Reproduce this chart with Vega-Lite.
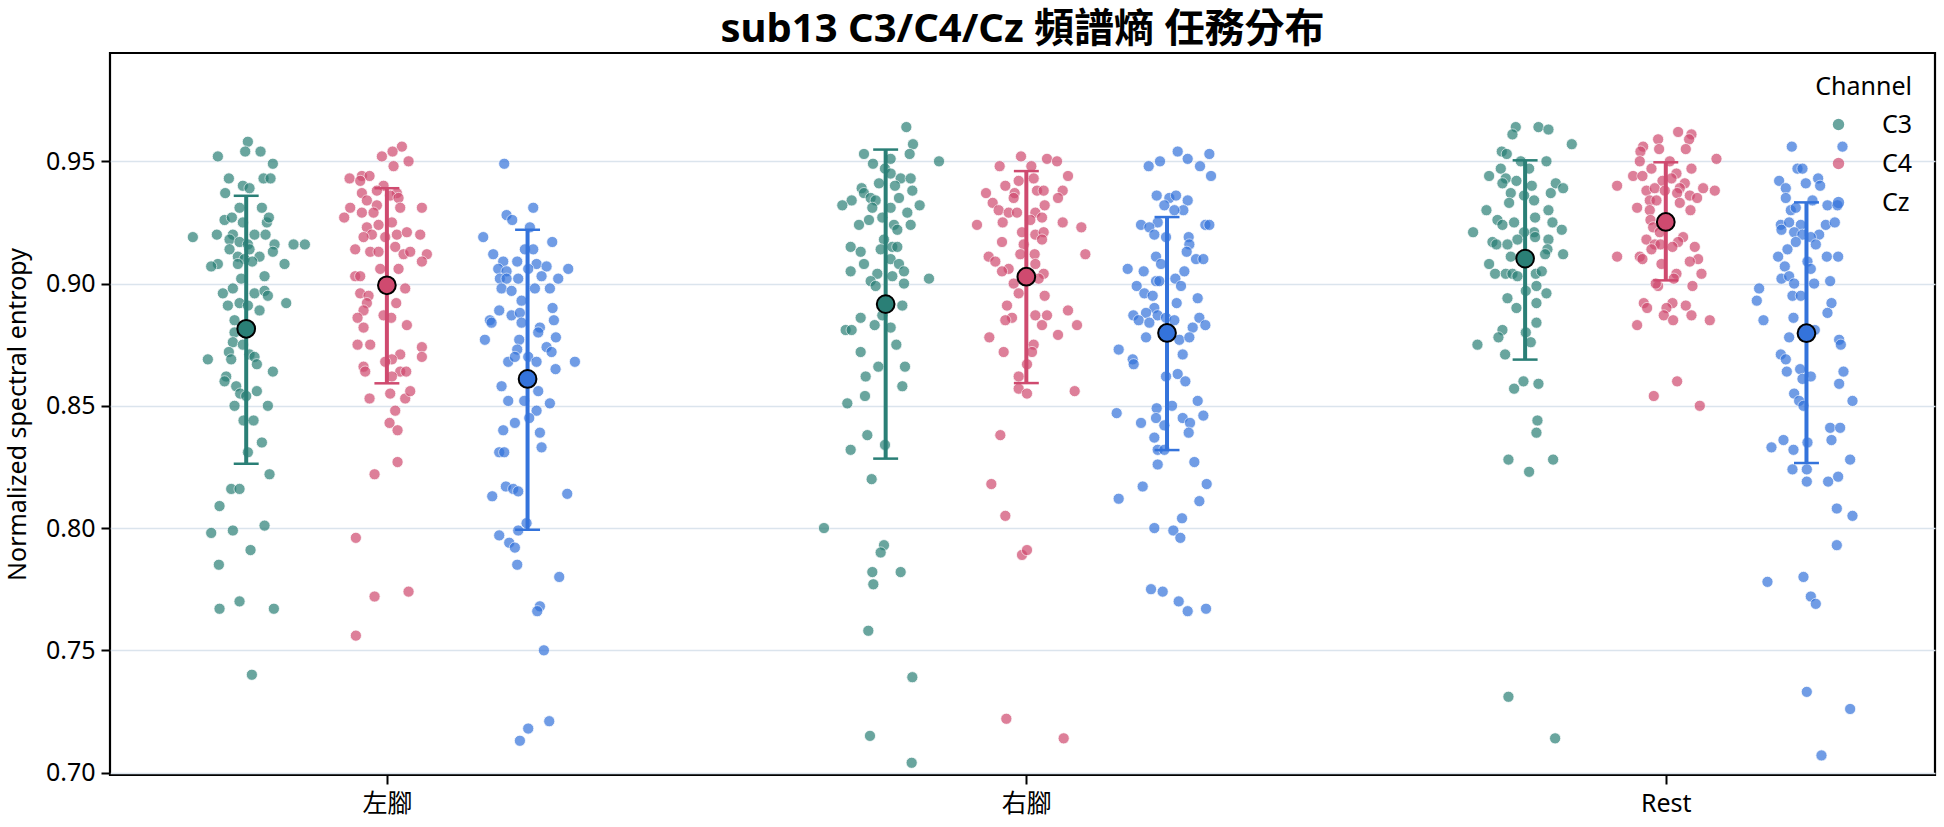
{
"$schema":"https://vega.github.io/schema/vega-lite/v6.json",
"width":1825,"height":722,
"autosize":{"type":"none"},
"padding":{"left":110,"top":53,"right":9,"bottom":52},
"background":"white",
"config":{"font":"'Noto Sans', 'Noto Sans CJK TC'","view":{"stroke":"#000","strokeWidth":2.2}},
"title":{"text":"sub13 C3/C4/Cz 頻譜熵 任務分布","font":"'Noto Sans', 'Noto Sans CJK TC'","fontSize":40,"fontWeight":"bold","color":"#000","offset":3,"frame":"group","anchor":"middle"},
"datasets":{
"summary":[
{"t":"左腳","c":"C3","m":0.8815,"lo":0.8263,"hi":0.9359},
{"t":"左腳","c":"C4","m":0.8993,"lo":0.8592,"hi":0.9390},
{"t":"左腳","c":"Cz","m":0.8610,"lo":0.7993,"hi":0.9220},
{"t":"右腳","c":"C3","m":0.8916,"lo":0.8284,"hi":0.9548},
{"t":"右腳","c":"C4","m":0.9028,"lo":0.8593,"hi":0.9460},
{"t":"右腳","c":"Cz","m":0.8798,"lo":0.8319,"hi":0.9272},
{"t":"Rest","c":"C3","m":0.9102,"lo":0.8689,"hi":0.9504},
{"t":"Rest","c":"C4","m":0.9252,"lo":0.9013,"hi":0.9496},
{"t":"Rest","c":"Cz","m":0.8797,"lo":0.8266,"hi":0.9332}
],
"pts":[
{"t":"左腳","c":"C3","v":0.958,"j":5},{"t":"左腳","c":"C3","v":0.954,"j":-3},{"t":"左腳","c":"C3","v":0.954,"j":43},{"t":"左腳","c":"C3","v":0.952,"j":-85},{"t":"左腳","c":"C3","v":0.949,"j":80},{"t":"左腳","c":"C3","v":0.943,"j":-52},{"t":"左腳","c":"C3","v":0.943,"j":52},{"t":"左腳","c":"C3","v":0.943,"j":73},{"t":"左腳","c":"C3","v":0.940,"j":-10},{"t":"左腳","c":"C3","v":0.939,"j":10},{"t":"左腳","c":"C3","v":0.937,"j":-63},{"t":"左腳","c":"C3","v":0.931,"j":47},{"t":"左腳","c":"C3","v":0.931,"j":-20},{"t":"左腳","c":"C3","v":0.926,"j":-65},{"t":"左腳","c":"C3","v":0.927,"j":-43},{"t":"左腳","c":"C3","v":0.925,"j":-10},{"t":"左腳","c":"C3","v":0.925,"j":62},{"t":"左腳","c":"C3","v":0.927,"j":68},{"t":"左腳","c":"C3","v":0.919,"j":-160},{"t":"左腳","c":"C3","v":0.920,"j":-88},{"t":"左腳","c":"C3","v":0.920,"j":-40},{"t":"左腳","c":"C3","v":0.920,"j":25},{"t":"左腳","c":"C3","v":0.920,"j":58},{"t":"左腳","c":"C3","v":0.918,"j":-50},{"t":"左腳","c":"C3","v":0.917,"j":-20},{"t":"左腳","c":"C3","v":0.916,"j":5},{"t":"左腳","c":"C3","v":0.916,"j":85},{"t":"左腳","c":"C3","v":0.916,"j":142},{"t":"左腳","c":"C3","v":0.916,"j":176},{"t":"左腳","c":"C3","v":0.914,"j":-50},{"t":"左腳","c":"C3","v":0.914,"j":10},{"t":"左腳","c":"C3","v":0.913,"j":80},{"t":"左腳","c":"C3","v":0.911,"j":-25},{"t":"左腳","c":"C3","v":0.910,"j":-5},{"t":"左腳","c":"C3","v":0.911,"j":40},{"t":"左腳","c":"C3","v":0.908,"j":-85},{"t":"左腳","c":"C3","v":0.907,"j":-105},{"t":"左腳","c":"C3","v":0.908,"j":-25},{"t":"左腳","c":"C3","v":0.909,"j":18},{"t":"左腳","c":"C3","v":0.908,"j":115},{"t":"左腳","c":"C3","v":0.902,"j":-15},{"t":"左腳","c":"C3","v":0.903,"j":55},{"t":"左腳","c":"C3","v":0.896,"j":-70},{"t":"左腳","c":"C3","v":0.898,"j":-40},{"t":"左腳","c":"C3","v":0.896,"j":25},{"t":"左腳","c":"C3","v":0.897,"j":55},{"t":"左腳","c":"C3","v":0.895,"j":65},{"t":"左腳","c":"C3","v":0.891,"j":-55},{"t":"左腳","c":"C3","v":0.892,"j":-20},{"t":"左腳","c":"C3","v":0.891,"j":5},{"t":"左腳","c":"C3","v":0.889,"j":40},{"t":"左腳","c":"C3","v":0.892,"j":120},{"t":"左腳","c":"C3","v":0.885,"j":-35},{"t":"左腳","c":"C3","v":0.880,"j":-35},{"t":"左腳","c":"C3","v":0.876,"j":-40},{"t":"左腳","c":"C3","v":0.875,"j":-10},{"t":"左腳","c":"C3","v":0.871,"j":10},{"t":"左腳","c":"C3","v":0.870,"j":25},{"t":"左腳","c":"C3","v":0.869,"j":-115},{"t":"左腳","c":"C3","v":0.872,"j":-52},{"t":"左腳","c":"C3","v":0.869,"j":-45},{"t":"左腳","c":"C3","v":0.867,"j":32},{"t":"左腳","c":"C3","v":0.864,"j":80},{"t":"左腳","c":"C3","v":0.862,"j":-60},{"t":"左腳","c":"C3","v":0.860,"j":-65},{"t":"左腳","c":"C3","v":0.858,"j":-30},{"t":"左腳","c":"C3","v":0.855,"j":-18},{"t":"左腳","c":"C3","v":0.854,"j":0},{"t":"左腳","c":"C3","v":0.856,"j":32},{"t":"左腳","c":"C3","v":0.850,"j":-35},{"t":"左腳","c":"C3","v":0.850,"j":65},{"t":"左腳","c":"C3","v":0.844,"j":-8},{"t":"左腳","c":"C3","v":0.844,"j":22},{"t":"左腳","c":"C3","v":0.835,"j":47},{"t":"左腳","c":"C3","v":0.831,"j":5},{"t":"左腳","c":"C3","v":0.822,"j":70},{"t":"左腳","c":"C3","v":0.816,"j":-45},{"t":"左腳","c":"C3","v":0.816,"j":-20},{"t":"左腳","c":"C3","v":0.809,"j":-80},{"t":"左腳","c":"C3","v":0.798,"j":-105},{"t":"左腳","c":"C3","v":0.799,"j":-40},{"t":"左腳","c":"C3","v":0.801,"j":55},{"t":"左腳","c":"C3","v":0.791,"j":13},{"t":"左腳","c":"C3","v":0.785,"j":-82},{"t":"左腳","c":"C3","v":0.767,"j":-80},{"t":"左腳","c":"C3","v":0.770,"j":-20},{"t":"左腳","c":"C3","v":0.767,"j":83},{"t":"左腳","c":"C3","v":0.740,"j":17},
{"t":"左腳","c":"C4","v":0.956,"j":45},{"t":"左腳","c":"C4","v":0.954,"j":17},{"t":"左腳","c":"C4","v":0.952,"j":-15},{"t":"左腳","c":"C4","v":0.950,"j":65},{"t":"左腳","c":"C4","v":0.948,"j":20},{"t":"左腳","c":"C4","v":0.943,"j":-112},{"t":"左腳","c":"C4","v":0.944,"j":-75},{"t":"左腳","c":"C4","v":0.944,"j":-52},{"t":"左腳","c":"C4","v":0.942,"j":-80},{"t":"左腳","c":"C4","v":0.940,"j":-10},{"t":"左腳","c":"C4","v":0.937,"j":30},{"t":"左腳","c":"C4","v":0.937,"j":-75},{"t":"左腳","c":"C4","v":0.938,"j":-30},{"t":"左腳","c":"C4","v":0.936,"j":10},{"t":"左腳","c":"C4","v":0.935,"j":35},{"t":"左腳","c":"C4","v":0.934,"j":-60},{"t":"左腳","c":"C4","v":0.932,"j":-30},{"t":"左腳","c":"C4","v":0.931,"j":105},{"t":"左腳","c":"C4","v":0.931,"j":-110},{"t":"左腳","c":"C4","v":0.931,"j":40},{"t":"左腳","c":"C4","v":0.929,"j":-75},{"t":"左腳","c":"C4","v":0.927,"j":-128},{"t":"左腳","c":"C4","v":0.929,"j":-40},{"t":"左腳","c":"C4","v":0.925,"j":15},{"t":"左腳","c":"C4","v":0.923,"j":-60},{"t":"左腳","c":"C4","v":0.924,"j":-25},{"t":"左腳","c":"C4","v":0.920,"j":-45},{"t":"左腳","c":"C4","v":0.919,"j":-70},{"t":"左腳","c":"C4","v":0.919,"j":-5},{"t":"左腳","c":"C4","v":0.920,"j":30},{"t":"左腳","c":"C4","v":0.921,"j":60},{"t":"左腳","c":"C4","v":0.920,"j":100},{"t":"左腳","c":"C4","v":0.914,"j":-95},{"t":"左腳","c":"C4","v":0.913,"j":-50},{"t":"左腳","c":"C4","v":0.913,"j":-25},{"t":"左腳","c":"C4","v":0.915,"j":25},{"t":"左腳","c":"C4","v":0.912,"j":50},{"t":"左腳","c":"C4","v":0.913,"j":70},{"t":"左腳","c":"C4","v":0.912,"j":120},{"t":"左腳","c":"C4","v":0.909,"j":105},{"t":"左腳","c":"C4","v":0.906,"j":-20},{"t":"左腳","c":"C4","v":0.906,"j":35},{"t":"左腳","c":"C4","v":0.903,"j":-95},{"t":"左腳","c":"C4","v":0.903,"j":-80},{"t":"左腳","c":"C4","v":0.898,"j":55},{"t":"左腳","c":"C4","v":0.896,"j":-80},{"t":"左腳","c":"C4","v":0.895,"j":-55},{"t":"左腳","c":"C4","v":0.892,"j":28},{"t":"左腳","c":"C4","v":0.892,"j":-60},{"t":"左腳","c":"C4","v":0.889,"j":-70},{"t":"左腳","c":"C4","v":0.887,"j":-10},{"t":"左腳","c":"C4","v":0.886,"j":-88},{"t":"左腳","c":"C4","v":0.886,"j":13},{"t":"左腳","c":"C4","v":0.883,"j":60},{"t":"左腳","c":"C4","v":0.882,"j":-70},{"t":"左腳","c":"C4","v":0.875,"j":-88},{"t":"左腳","c":"C4","v":0.875,"j":-50},{"t":"左腳","c":"C4","v":0.874,"j":105},{"t":"左腳","c":"C4","v":0.870,"j":105},{"t":"左腳","c":"C4","v":0.871,"j":40},{"t":"左腳","c":"C4","v":0.869,"j":15},{"t":"左腳","c":"C4","v":0.868,"j":-5},{"t":"左腳","c":"C4","v":0.866,"j":-70},{"t":"左腳","c":"C4","v":0.864,"j":-65},{"t":"左腳","c":"C4","v":0.864,"j":40},{"t":"左腳","c":"C4","v":0.864,"j":58},{"t":"左腳","c":"C4","v":0.862,"j":15},{"t":"左腳","c":"C4","v":0.853,"j":-52},{"t":"左腳","c":"C4","v":0.855,"j":10},{"t":"左腳","c":"C4","v":0.853,"j":55},{"t":"左腳","c":"C4","v":0.856,"j":70},{"t":"左腳","c":"C4","v":0.848,"j":25},{"t":"左腳","c":"C4","v":0.843,"j":8},{"t":"左腳","c":"C4","v":0.840,"j":32},{"t":"左腳","c":"C4","v":0.827,"j":32},{"t":"左腳","c":"C4","v":0.822,"j":-37},{"t":"左腳","c":"C4","v":0.796,"j":-93},{"t":"左腳","c":"C4","v":0.772,"j":-37},{"t":"左腳","c":"C4","v":0.774,"j":65},{"t":"左腳","c":"C4","v":0.756,"j":-93},
{"t":"左腳","c":"Cz","v":0.949,"j":-70},{"t":"左腳","c":"Cz","v":0.931,"j":17},{"t":"左腳","c":"Cz","v":0.928,"j":-63},{"t":"左腳","c":"Cz","v":0.926,"j":-46},{"t":"左腳","c":"Cz","v":0.923,"j":7},{"t":"左腳","c":"Cz","v":0.919,"j":-133},{"t":"左腳","c":"Cz","v":0.917,"j":74},{"t":"左腳","c":"Cz","v":0.914,"j":-8},{"t":"左腳","c":"Cz","v":0.914,"j":17},{"t":"左腳","c":"Cz","v":0.912,"j":-103},{"t":"左腳","c":"Cz","v":0.909,"j":-73},{"t":"左腳","c":"Cz","v":0.909,"j":-31},{"t":"左腳","c":"Cz","v":0.908,"j":27},{"t":"左腳","c":"Cz","v":0.907,"j":57},{"t":"左腳","c":"Cz","v":0.906,"j":122},{"t":"左腳","c":"Cz","v":0.906,"j":-88},{"t":"左腳","c":"Cz","v":0.905,"j":-63},{"t":"左腳","c":"Cz","v":0.906,"j":2},{"t":"左腳","c":"Cz","v":0.903,"j":42},{"t":"左腳","c":"Cz","v":0.902,"j":92},{"t":"左腳","c":"Cz","v":0.902,"j":-83},{"t":"左腳","c":"Cz","v":0.902,"j":-63},{"t":"左腳","c":"Cz","v":0.902,"j":-28},{"t":"左腳","c":"Cz","v":0.898,"j":-78},{"t":"左腳","c":"Cz","v":0.897,"j":-48},{"t":"左腳","c":"Cz","v":0.898,"j":22},{"t":"左腳","c":"Cz","v":0.898,"j":67},{"t":"左腳","c":"Cz","v":0.893,"j":-18},{"t":"左腳","c":"Cz","v":0.890,"j":75},{"t":"左腳","c":"Cz","v":0.889,"j":-85},{"t":"左腳","c":"Cz","v":0.887,"j":-48},{"t":"左腳","c":"Cz","v":0.888,"j":-23},{"t":"左腳","c":"Cz","v":0.885,"j":-113},{"t":"左腳","c":"Cz","v":0.884,"j":-108},{"t":"左腳","c":"Cz","v":0.884,"j":-18},{"t":"左腳","c":"Cz","v":0.882,"j":37},{"t":"左腳","c":"Cz","v":0.885,"j":79},{"t":"左腳","c":"Cz","v":0.877,"j":-128},{"t":"左腳","c":"Cz","v":0.880,"j":32},{"t":"左腳","c":"Cz","v":0.878,"j":85},{"t":"左腳","c":"Cz","v":0.877,"j":-25},{"t":"左腳","c":"Cz","v":0.874,"j":57},{"t":"左腳","c":"Cz","v":0.872,"j":72},{"t":"左腳","c":"Cz","v":0.873,"j":-31},{"t":"左腳","c":"Cz","v":0.870,"j":2},{"t":"左腳","c":"Cz","v":0.868,"j":-58},{"t":"左腳","c":"Cz","v":0.868,"j":27},{"t":"左腳","c":"Cz","v":0.868,"j":142},{"t":"左腳","c":"Cz","v":0.870,"j":-38},{"t":"左腳","c":"Cz","v":0.865,"j":84},{"t":"左腳","c":"Cz","v":0.858,"j":-78},{"t":"左腳","c":"Cz","v":0.856,"j":32},{"t":"左腳","c":"Cz","v":0.852,"j":-58},{"t":"左腳","c":"Cz","v":0.852,"j":-10},{"t":"左腳","c":"Cz","v":0.851,"j":67},{"t":"左腳","c":"Cz","v":0.848,"j":27},{"t":"左腳","c":"Cz","v":0.845,"j":5},{"t":"左腳","c":"Cz","v":0.843,"j":-38},{"t":"左腳","c":"Cz","v":0.840,"j":-73},{"t":"左腳","c":"Cz","v":0.839,"j":37},{"t":"左腳","c":"Cz","v":0.833,"j":42},{"t":"左腳","c":"Cz","v":0.831,"j":-85},{"t":"左腳","c":"Cz","v":0.831,"j":-70},{"t":"左腳","c":"Cz","v":0.817,"j":-65},{"t":"左腳","c":"Cz","v":0.816,"j":-43},{"t":"左腳","c":"Cz","v":0.815,"j":-28},{"t":"左腳","c":"Cz","v":0.813,"j":-106},{"t":"左腳","c":"Cz","v":0.814,"j":119},{"t":"左腳","c":"Cz","v":0.802,"j":-3},{"t":"左腳","c":"Cz","v":0.799,"j":-28},{"t":"左腳","c":"Cz","v":0.797,"j":-85},{"t":"左腳","c":"Cz","v":0.794,"j":-55},{"t":"左腳","c":"Cz","v":0.792,"j":-38},{"t":"左腳","c":"Cz","v":0.785,"j":-31},{"t":"左腳","c":"Cz","v":0.780,"j":95},{"t":"左腳","c":"Cz","v":0.768,"j":37},{"t":"左腳","c":"Cz","v":0.766,"j":29},{"t":"左腳","c":"Cz","v":0.750,"j":49},{"t":"左腳","c":"Cz","v":0.721,"j":65},{"t":"左腳","c":"Cz","v":0.718,"j":2},{"t":"左腳","c":"Cz","v":0.713,"j":-23},
{"t":"右腳","c":"C3","v":0.964,"j":62},{"t":"右腳","c":"C3","v":0.957,"j":82},{"t":"右腳","c":"C3","v":0.953,"j":72},{"t":"右腳","c":"C3","v":0.953,"j":-65},{"t":"右腳","c":"C3","v":0.949,"j":-38},{"t":"右腳","c":"C3","v":0.951,"j":15},{"t":"右腳","c":"C3","v":0.950,"j":160},{"t":"右腳","c":"C3","v":0.947,"j":-2},{"t":"右腳","c":"C3","v":0.945,"j":15},{"t":"右腳","c":"C3","v":0.943,"j":45},{"t":"右腳","c":"C3","v":0.943,"j":75},{"t":"右腳","c":"C3","v":0.941,"j":-20},{"t":"右腳","c":"C3","v":0.939,"j":-72},{"t":"右腳","c":"C3","v":0.940,"j":28},{"t":"右腳","c":"C3","v":0.938,"j":80},{"t":"右腳","c":"C3","v":0.934,"j":-102},{"t":"右腳","c":"C3","v":0.937,"j":-65},{"t":"右腳","c":"C3","v":0.935,"j":-45},{"t":"右腳","c":"C3","v":0.934,"j":-30},{"t":"右腳","c":"C3","v":0.935,"j":40},{"t":"右腳","c":"C3","v":0.932,"j":-130},{"t":"右腳","c":"C3","v":0.931,"j":-40},{"t":"右腳","c":"C3","v":0.931,"j":15},{"t":"右腳","c":"C3","v":0.932,"j":102},{"t":"右腳","c":"C3","v":0.929,"j":65},{"t":"右腳","c":"C3","v":0.926,"j":-50},{"t":"右腳","c":"C3","v":0.924,"j":-80},{"t":"右腳","c":"C3","v":0.924,"j":25},{"t":"右腳","c":"C3","v":0.924,"j":75},{"t":"右腳","c":"C3","v":0.927,"j":-10},{"t":"右腳","c":"C3","v":0.922,"j":35},{"t":"右腳","c":"C3","v":0.918,"j":-5},{"t":"右腳","c":"C3","v":0.915,"j":20},{"t":"右腳","c":"C3","v":0.915,"j":35},{"t":"右腳","c":"C3","v":0.915,"j":-105},{"t":"右腳","c":"C3","v":0.913,"j":-75},{"t":"右腳","c":"C3","v":0.914,"j":-15},{"t":"右腳","c":"C3","v":0.910,"j":15},{"t":"右腳","c":"C3","v":0.908,"j":40},{"t":"右腳","c":"C3","v":0.908,"j":-65},{"t":"右腳","c":"C3","v":0.905,"j":-105},{"t":"右腳","c":"C3","v":0.905,"j":55},{"t":"右腳","c":"C3","v":0.904,"j":-25},{"t":"右腳","c":"C3","v":0.903,"j":20},{"t":"右腳","c":"C3","v":0.901,"j":-45},{"t":"右腳","c":"C3","v":0.902,"j":130},{"t":"右腳","c":"C3","v":0.899,"j":-30},{"t":"右腳","c":"C3","v":0.900,"j":55},{"t":"右腳","c":"C3","v":0.891,"j":50},{"t":"右腳","c":"C3","v":0.887,"j":-10},{"t":"右腳","c":"C3","v":0.886,"j":-75},{"t":"右腳","c":"C3","v":0.881,"j":-120},{"t":"右腳","c":"C3","v":0.881,"j":-102},{"t":"右腳","c":"C3","v":0.883,"j":-33},{"t":"右腳","c":"C3","v":0.882,"j":15},{"t":"右腳","c":"C3","v":0.875,"j":32},{"t":"右腳","c":"C3","v":0.872,"j":-75},{"t":"右腳","c":"C3","v":0.866,"j":-22},{"t":"右腳","c":"C3","v":0.866,"j":58},{"t":"右腳","c":"C3","v":0.862,"j":-60},{"t":"右腳","c":"C3","v":0.858,"j":50},{"t":"右腳","c":"C3","v":0.854,"j":-62},{"t":"右腳","c":"C3","v":0.851,"j":-115},{"t":"右腳","c":"C3","v":0.838,"j":-55},{"t":"右腳","c":"C3","v":0.832,"j":-105},{"t":"右腳","c":"C3","v":0.834,"j":-2},{"t":"右腳","c":"C3","v":0.820,"j":-42},{"t":"右腳","c":"C3","v":0.800,"j":-185},{"t":"右腳","c":"C3","v":0.793,"j":-5},{"t":"右腳","c":"C3","v":0.790,"j":-15},{"t":"右腳","c":"C3","v":0.782,"j":-40},{"t":"右腳","c":"C3","v":0.782,"j":45},{"t":"右腳","c":"C3","v":0.777,"j":-37},{"t":"右腳","c":"C3","v":0.758,"j":-52},{"t":"右腳","c":"C3","v":0.739,"j":80},{"t":"右腳","c":"C3","v":0.715,"j":-47},{"t":"右腳","c":"C3","v":0.704,"j":78},
{"t":"右腳","c":"C4","v":0.952,"j":-16},{"t":"右腳","c":"C4","v":0.951,"j":62},{"t":"右腳","c":"C4","v":0.950,"j":92},{"t":"右腳","c":"C4","v":0.948,"j":-80},{"t":"右腳","c":"C4","v":0.948,"j":15},{"t":"右腳","c":"C4","v":0.944,"j":125},{"t":"右腳","c":"C4","v":0.942,"j":-23},{"t":"右腳","c":"C4","v":0.943,"j":22},{"t":"右腳","c":"C4","v":0.940,"j":-63},{"t":"右腳","c":"C4","v":0.937,"j":-121},{"t":"右腳","c":"C4","v":0.937,"j":-35},{"t":"右腳","c":"C4","v":0.938,"j":32},{"t":"右腳","c":"C4","v":0.938,"j":52},{"t":"右腳","c":"C4","v":0.938,"j":109},{"t":"右腳","c":"C4","v":0.935,"j":-38},{"t":"右腳","c":"C4","v":0.935,"j":95},{"t":"右腳","c":"C4","v":0.933,"j":-101},{"t":"右腳","c":"C4","v":0.932,"j":55},{"t":"右腳","c":"C4","v":0.930,"j":-83},{"t":"右腳","c":"C4","v":0.929,"j":-53},{"t":"右腳","c":"C4","v":0.929,"j":-28},{"t":"右腳","c":"C4","v":0.929,"j":27},{"t":"右腳","c":"C4","v":0.927,"j":47},{"t":"右腳","c":"C4","v":0.926,"j":12},{"t":"右腳","c":"C4","v":0.924,"j":-148},{"t":"右腳","c":"C4","v":0.925,"j":-71},{"t":"右腳","c":"C4","v":0.925,"j":109},{"t":"右腳","c":"C4","v":0.923,"j":165},{"t":"右腳","c":"C4","v":0.921,"j":-13},{"t":"右腳","c":"C4","v":0.920,"j":27},{"t":"右腳","c":"C4","v":0.921,"j":52},{"t":"右腳","c":"C4","v":0.917,"j":-73},{"t":"右腳","c":"C4","v":0.916,"j":-8},{"t":"右腳","c":"C4","v":0.918,"j":47},{"t":"右腳","c":"C4","v":0.912,"j":177},{"t":"右腳","c":"C4","v":0.911,"j":-113},{"t":"右腳","c":"C4","v":0.909,"j":-93},{"t":"右腳","c":"C4","v":0.912,"j":-18},{"t":"右腳","c":"C4","v":0.912,"j":25},{"t":"右腳","c":"C4","v":0.906,"j":-53},{"t":"右腳","c":"C4","v":0.908,"j":27},{"t":"右腳","c":"C4","v":0.905,"j":-73},{"t":"右腳","c":"C4","v":0.904,"j":52},{"t":"右腳","c":"C4","v":0.900,"j":-38},{"t":"右腳","c":"C4","v":0.902,"j":37},{"t":"右腳","c":"C4","v":0.896,"j":-23},{"t":"右腳","c":"C4","v":0.895,"j":55},{"t":"右腳","c":"C4","v":0.891,"j":-58},{"t":"右腳","c":"C4","v":0.889,"j":125},{"t":"右腳","c":"C4","v":0.886,"j":-43},{"t":"右腳","c":"C4","v":0.887,"j":27},{"t":"右腳","c":"C4","v":0.887,"j":62},{"t":"右腳","c":"C4","v":0.885,"j":-63},{"t":"右腳","c":"C4","v":0.883,"j":47},{"t":"右腳","c":"C4","v":0.883,"j":152},{"t":"右腳","c":"C4","v":0.879,"j":95},{"t":"右腳","c":"C4","v":0.878,"j":-111},{"t":"右腳","c":"C4","v":0.875,"j":22},{"t":"右腳","c":"C4","v":0.872,"j":17},{"t":"右腳","c":"C4","v":0.872,"j":-68},{"t":"右腳","c":"C4","v":0.867,"j":2},{"t":"右腳","c":"C4","v":0.862,"j":-23},{"t":"右腳","c":"C4","v":0.857,"j":-23},{"t":"右腳","c":"C4","v":0.855,"j":2},{"t":"右腳","c":"C4","v":0.856,"j":145},{"t":"右腳","c":"C4","v":0.838,"j":-78},{"t":"右腳","c":"C4","v":0.818,"j":-105},{"t":"右腳","c":"C4","v":0.805,"j":-63},{"t":"右腳","c":"C4","v":0.789,"j":-13},{"t":"右腳","c":"C4","v":0.791,"j":2},{"t":"右腳","c":"C4","v":0.722,"j":-60},{"t":"右腳","c":"C4","v":0.714,"j":112},
{"t":"右腳","c":"Cz","v":0.954,"j":32},{"t":"右腳","c":"Cz","v":0.953,"j":127},{"t":"右腳","c":"Cz","v":0.951,"j":62},{"t":"右腳","c":"Cz","v":0.948,"j":-55},{"t":"右腳","c":"Cz","v":0.950,"j":-21},{"t":"右腳","c":"Cz","v":0.948,"j":99},{"t":"右腳","c":"Cz","v":0.944,"j":132},{"t":"右腳","c":"Cz","v":0.936,"j":-31},{"t":"右腳","c":"Cz","v":0.935,"j":7},{"t":"右腳","c":"Cz","v":0.936,"j":27},{"t":"右腳","c":"Cz","v":0.934,"j":62},{"t":"右腳","c":"Cz","v":0.932,"j":-8},{"t":"右腳","c":"Cz","v":0.930,"j":49},{"t":"右腳","c":"Cz","v":0.930,"j":22},{"t":"右腳","c":"Cz","v":0.924,"j":-78},{"t":"右腳","c":"Cz","v":0.925,"j":-28},{"t":"右腳","c":"Cz","v":0.923,"j":-53},{"t":"右腳","c":"Cz","v":0.920,"j":-38},{"t":"右腳","c":"Cz","v":0.919,"j":-3},{"t":"右腳","c":"Cz","v":0.924,"j":115},{"t":"右腳","c":"Cz","v":0.924,"j":127},{"t":"右腳","c":"Cz","v":0.919,"j":65},{"t":"右腳","c":"Cz","v":0.916,"j":67},{"t":"右腳","c":"Cz","v":0.913,"j":59},{"t":"右腳","c":"Cz","v":0.910,"j":87},{"t":"右腳","c":"Cz","v":0.910,"j":109},{"t":"右腳","c":"Cz","v":0.911,"j":-33},{"t":"右腳","c":"Cz","v":0.908,"j":-18},{"t":"右腳","c":"Cz","v":0.906,"j":-118},{"t":"右腳","c":"Cz","v":0.905,"j":-70},{"t":"右腳","c":"Cz","v":0.905,"j":52},{"t":"右腳","c":"Cz","v":0.902,"j":25},{"t":"右腳","c":"Cz","v":0.901,"j":-33},{"t":"右腳","c":"Cz","v":0.901,"j":-23},{"t":"右腳","c":"Cz","v":0.899,"j":-91},{"t":"右腳","c":"Cz","v":0.899,"j":42},{"t":"右腳","c":"Cz","v":0.896,"j":-68},{"t":"右腳","c":"Cz","v":0.895,"j":-43},{"t":"右腳","c":"Cz","v":0.894,"j":92},{"t":"右腳","c":"Cz","v":0.892,"j":29},{"t":"右腳","c":"Cz","v":0.890,"j":-38},{"t":"右腳","c":"Cz","v":0.887,"j":-101},{"t":"右腳","c":"Cz","v":0.888,"j":-63},{"t":"右腳","c":"Cz","v":0.887,"j":-28},{"t":"右腳","c":"Cz","v":0.885,"j":-85},{"t":"右腳","c":"Cz","v":0.884,"j":-53},{"t":"右腳","c":"Cz","v":0.886,"j":-3},{"t":"右腳","c":"Cz","v":0.885,"j":22},{"t":"右腳","c":"Cz","v":0.886,"j":97},{"t":"右腳","c":"Cz","v":0.883,"j":115},{"t":"右腳","c":"Cz","v":0.882,"j":77},{"t":"右腳","c":"Cz","v":0.878,"j":-63},{"t":"右腳","c":"Cz","v":0.877,"j":37},{"t":"右腳","c":"Cz","v":0.878,"j":67},{"t":"右腳","c":"Cz","v":0.873,"j":-145},{"t":"右腳","c":"Cz","v":0.871,"j":47},{"t":"右腳","c":"Cz","v":0.869,"j":-103},{"t":"右腳","c":"Cz","v":0.867,"j":-100},{"t":"右腳","c":"Cz","v":0.863,"j":32},{"t":"右腳","c":"Cz","v":0.862,"j":-3},{"t":"右腳","c":"Cz","v":0.860,"j":55},{"t":"右腳","c":"Cz","v":0.852,"j":92},{"t":"右腳","c":"Cz","v":0.847,"j":-151},{"t":"右腳","c":"Cz","v":0.849,"j":-31},{"t":"右腳","c":"Cz","v":0.850,"j":15},{"t":"右腳","c":"Cz","v":0.845,"j":-33},{"t":"右腳","c":"Cz","v":0.842,"j":-8},{"t":"右腳","c":"Cz","v":0.843,"j":-78},{"t":"右腳","c":"Cz","v":0.846,"j":109},{"t":"右腳","c":"Cz","v":0.845,"j":47},{"t":"右腳","c":"Cz","v":0.843,"j":69},{"t":"右腳","c":"Cz","v":0.839,"j":65},{"t":"右腳","c":"Cz","v":0.837,"j":-38},{"t":"右腳","c":"Cz","v":0.832,"j":-28},{"t":"右腳","c":"Cz","v":0.832,"j":-8},{"t":"右腳","c":"Cz","v":0.826,"j":-28},{"t":"右腳","c":"Cz","v":0.827,"j":82},{"t":"右腳","c":"Cz","v":0.817,"j":-73},{"t":"右腳","c":"Cz","v":0.818,"j":119},{"t":"右腳","c":"Cz","v":0.812,"j":-145},{"t":"右腳","c":"Cz","v":0.811,"j":97},{"t":"右腳","c":"Cz","v":0.804,"j":45},{"t":"右腳","c":"Cz","v":0.800,"j":-38},{"t":"右腳","c":"Cz","v":0.799,"j":19},{"t":"右腳","c":"Cz","v":0.796,"j":40},{"t":"右腳","c":"Cz","v":0.775,"j":-48},{"t":"右腳","c":"Cz","v":0.774,"j":-13},{"t":"右腳","c":"Cz","v":0.770,"j":35},{"t":"右腳","c":"Cz","v":0.766,"j":62},{"t":"右腳","c":"Cz","v":0.767,"j":117},
{"t":"Rest","c":"C3","v":0.964,"j":-28},{"t":"Rest","c":"C3","v":0.961,"j":-38},{"t":"Rest","c":"C3","v":0.964,"j":40},{"t":"Rest","c":"C3","v":0.963,"j":70},{"t":"Rest","c":"C3","v":0.957,"j":140},{"t":"Rest","c":"C3","v":0.954,"j":-70},{"t":"Rest","c":"C3","v":0.953,"j":-55},{"t":"Rest","c":"C3","v":0.950,"j":-13},{"t":"Rest","c":"C3","v":0.950,"j":64},{"t":"Rest","c":"C3","v":0.947,"j":-73},{"t":"Rest","c":"C3","v":0.947,"j":12},{"t":"Rest","c":"C3","v":0.944,"j":-108},{"t":"Rest","c":"C3","v":0.943,"j":-58},{"t":"Rest","c":"C3","v":0.942,"j":-26},{"t":"Rest","c":"C3","v":0.941,"j":-68},{"t":"Rest","c":"C3","v":0.940,"j":20},{"t":"Rest","c":"C3","v":0.941,"j":92},{"t":"Rest","c":"C3","v":0.939,"j":114},{"t":"Rest","c":"C3","v":0.937,"j":77},{"t":"Rest","c":"C3","v":0.937,"j":-43},{"t":"Rest","c":"C3","v":0.936,"j":-3},{"t":"Rest","c":"C3","v":0.934,"j":27},{"t":"Rest","c":"C3","v":0.933,"j":-48},{"t":"Rest","c":"C3","v":0.930,"j":-116},{"t":"Rest","c":"C3","v":0.930,"j":70},{"t":"Rest","c":"C3","v":0.927,"j":30},{"t":"Rest","c":"C3","v":0.926,"j":-83},{"t":"Rest","c":"C3","v":0.925,"j":-33},{"t":"Rest","c":"C3","v":0.924,"j":-68},{"t":"Rest","c":"C3","v":0.925,"j":82},{"t":"Rest","c":"C3","v":0.921,"j":-156},{"t":"Rest","c":"C3","v":0.922,"j":110},{"t":"Rest","c":"C3","v":0.921,"j":27},{"t":"Rest","c":"C3","v":0.921,"j":-3},{"t":"Rest","c":"C3","v":0.918,"j":-23},{"t":"Rest","c":"C3","v":0.918,"j":70},{"t":"Rest","c":"C3","v":0.917,"j":-98},{"t":"Rest","c":"C3","v":0.916,"j":-86},{"t":"Rest","c":"C3","v":0.916,"j":-53},{"t":"Rest","c":"C3","v":0.919,"j":30},{"t":"Rest","c":"C3","v":0.914,"j":67},{"t":"Rest","c":"C3","v":0.912,"j":60},{"t":"Rest","c":"C3","v":0.912,"j":114},{"t":"Rest","c":"C3","v":0.911,"j":-43},{"t":"Rest","c":"C3","v":0.908,"j":-108},{"t":"Rest","c":"C3","v":0.904,"j":-90},{"t":"Rest","c":"C3","v":0.904,"j":-58},{"t":"Rest","c":"C3","v":0.904,"j":-38},{"t":"Rest","c":"C3","v":0.904,"j":32},{"t":"Rest","c":"C3","v":0.905,"j":50},{"t":"Rest","c":"C3","v":0.903,"j":-23},{"t":"Rest","c":"C3","v":0.899,"j":34},{"t":"Rest","c":"C3","v":0.897,"j":2},{"t":"Rest","c":"C3","v":0.896,"j":64},{"t":"Rest","c":"C3","v":0.894,"j":-53},{"t":"Rest","c":"C3","v":0.892,"j":34},{"t":"Rest","c":"C3","v":0.890,"j":-26},{"t":"Rest","c":"C3","v":0.884,"j":34},{"t":"Rest","c":"C3","v":0.880,"j":2},{"t":"Rest","c":"C3","v":0.881,"j":-68},{"t":"Rest","c":"C3","v":0.878,"j":-80},{"t":"Rest","c":"C3","v":0.876,"j":17},{"t":"Rest","c":"C3","v":0.875,"j":-143},{"t":"Rest","c":"C3","v":0.871,"j":-60},{"t":"Rest","c":"C3","v":0.860,"j":-5},{"t":"Rest","c":"C3","v":0.859,"j":40},{"t":"Rest","c":"C3","v":0.857,"j":-33},{"t":"Rest","c":"C3","v":0.844,"j":37},{"t":"Rest","c":"C3","v":0.839,"j":34},{"t":"Rest","c":"C3","v":0.828,"j":-50},{"t":"Rest","c":"C3","v":0.828,"j":84},{"t":"Rest","c":"C3","v":0.823,"j":12},{"t":"Rest","c":"C3","v":0.731,"j":-50},{"t":"Rest","c":"C3","v":0.714,"j":90},
{"t":"Rest","c":"C4","v":0.962,"j":37},{"t":"Rest","c":"C4","v":0.961,"j":77},{"t":"Rest","c":"C4","v":0.959,"j":-23},{"t":"Rest","c":"C4","v":0.959,"j":70},{"t":"Rest","c":"C4","v":0.956,"j":-68},{"t":"Rest","c":"C4","v":0.955,"j":-20},{"t":"Rest","c":"C4","v":0.955,"j":60},{"t":"Rest","c":"C4","v":0.954,"j":-76},{"t":"Rest","c":"C4","v":0.951,"j":152},{"t":"Rest","c":"C4","v":0.950,"j":12},{"t":"Rest","c":"C4","v":0.950,"j":-78},{"t":"Rest","c":"C4","v":0.947,"j":-43},{"t":"Rest","c":"C4","v":0.947,"j":77},{"t":"Rest","c":"C4","v":0.945,"j":32},{"t":"Rest","c":"C4","v":0.944,"j":-98},{"t":"Rest","c":"C4","v":0.944,"j":-70},{"t":"Rest","c":"C4","v":0.942,"j":-10},{"t":"Rest","c":"C4","v":0.940,"j":-146},{"t":"Rest","c":"C4","v":0.943,"j":17},{"t":"Rest","c":"C4","v":0.941,"j":57},{"t":"Rest","c":"C4","v":0.939,"j":42},{"t":"Rest","c":"C4","v":0.939,"j":112},{"t":"Rest","c":"C4","v":0.938,"j":147},{"t":"Rest","c":"C4","v":0.938,"j":-58},{"t":"Rest","c":"C4","v":0.939,"j":-33},{"t":"Rest","c":"C4","v":0.938,"j":-3},{"t":"Rest","c":"C4","v":0.937,"j":34},{"t":"Rest","c":"C4","v":0.936,"j":72},{"t":"Rest","c":"C4","v":0.935,"j":94},{"t":"Rest","c":"C4","v":0.934,"j":-48},{"t":"Rest","c":"C4","v":0.934,"j":-28},{"t":"Rest","c":"C4","v":0.933,"j":42},{"t":"Rest","c":"C4","v":0.931,"j":-86},{"t":"Rest","c":"C4","v":0.930,"j":-48},{"t":"Rest","c":"C4","v":0.930,"j":74},{"t":"Rest","c":"C4","v":0.926,"j":-46},{"t":"Rest","c":"C4","v":0.923,"j":-38},{"t":"Rest","c":"C4","v":0.921,"j":-18},{"t":"Rest","c":"C4","v":0.918,"j":-58},{"t":"Rest","c":"C4","v":0.919,"j":52},{"t":"Rest","c":"C4","v":0.917,"j":37},{"t":"Rest","c":"C4","v":0.916,"j":-33},{"t":"Rest","c":"C4","v":0.916,"j":-16},{"t":"Rest","c":"C4","v":0.915,"j":20},{"t":"Rest","c":"C4","v":0.915,"j":87},{"t":"Rest","c":"C4","v":0.911,"j":-146},{"t":"Rest","c":"C4","v":0.911,"j":-78},{"t":"Rest","c":"C4","v":0.914,"j":-43},{"t":"Rest","c":"C4","v":0.910,"j":-70},{"t":"Rest","c":"C4","v":0.910,"j":97},{"t":"Rest","c":"C4","v":0.909,"j":72},{"t":"Rest","c":"C4","v":0.908,"j":-13},{"t":"Rest","c":"C4","v":0.904,"j":107},{"t":"Rest","c":"C4","v":0.904,"j":32},{"t":"Rest","c":"C4","v":0.902,"j":24},{"t":"Rest","c":"C4","v":0.899,"j":-23},{"t":"Rest","c":"C4","v":0.900,"j":-30},{"t":"Rest","c":"C4","v":0.899,"j":80},{"t":"Rest","c":"C4","v":0.892,"j":-66},{"t":"Rest","c":"C4","v":0.890,"j":-56},{"t":"Rest","c":"C4","v":0.892,"j":20},{"t":"Rest","c":"C4","v":0.890,"j":2},{"t":"Rest","c":"C4","v":0.887,"j":-6},{"t":"Rest","c":"C4","v":0.885,"j":22},{"t":"Rest","c":"C4","v":0.891,"j":60},{"t":"Rest","c":"C4","v":0.887,"j":77},{"t":"Rest","c":"C4","v":0.885,"j":132},{"t":"Rest","c":"C4","v":0.883,"j":-86},{"t":"Rest","c":"C4","v":0.860,"j":34},{"t":"Rest","c":"C4","v":0.854,"j":-36},{"t":"Rest","c":"C4","v":0.850,"j":102},
{"t":"Rest","c":"Cz","v":0.956,"j":-44},{"t":"Rest","c":"Cz","v":0.956,"j":108},{"t":"Rest","c":"Cz","v":0.947,"j":-27},{"t":"Rest","c":"Cz","v":0.947,"j":-12},{"t":"Rest","c":"Cz","v":0.942,"j":-82},{"t":"Rest","c":"Cz","v":0.941,"j":-2},{"t":"Rest","c":"Cz","v":0.943,"j":35},{"t":"Rest","c":"Cz","v":0.939,"j":-62},{"t":"Rest","c":"Cz","v":0.940,"j":41},{"t":"Rest","c":"Cz","v":0.935,"j":-62},{"t":"Rest","c":"Cz","v":0.934,"j":18},{"t":"Rest","c":"Cz","v":0.932,"j":63},{"t":"Rest","c":"Cz","v":0.932,"j":93},{"t":"Rest","c":"Cz","v":0.930,"j":-47},{"t":"Rest","c":"Cz","v":0.931,"j":-32},{"t":"Rest","c":"Cz","v":0.924,"j":-77},{"t":"Rest","c":"Cz","v":0.925,"j":-52},{"t":"Rest","c":"Cz","v":0.924,"j":58},{"t":"Rest","c":"Cz","v":0.925,"j":85},{"t":"Rest","c":"Cz","v":0.924,"j":-17},{"t":"Rest","c":"Cz","v":0.922,"j":-75},{"t":"Rest","c":"Cz","v":0.921,"j":-37},{"t":"Rest","c":"Cz","v":0.920,"j":-12},{"t":"Rest","c":"Cz","v":0.920,"j":38},{"t":"Rest","c":"Cz","v":0.919,"j":13},{"t":"Rest","c":"Cz","v":0.917,"j":-32},{"t":"Rest","c":"Cz","v":0.916,"j":28},{"t":"Rest","c":"Cz","v":0.914,"j":-57},{"t":"Rest","c":"Cz","v":0.911,"j":-85},{"t":"Rest","c":"Cz","v":0.911,"j":61},{"t":"Rest","c":"Cz","v":0.911,"j":95},{"t":"Rest","c":"Cz","v":0.909,"j":3},{"t":"Rest","c":"Cz","v":0.906,"j":13},{"t":"Rest","c":"Cz","v":0.907,"j":-65},{"t":"Rest","c":"Cz","v":0.902,"j":-75},{"t":"Rest","c":"Cz","v":0.903,"j":-52},{"t":"Rest","c":"Cz","v":0.900,"j":-37},{"t":"Rest","c":"Cz","v":0.900,"j":23},{"t":"Rest","c":"Cz","v":0.901,"j":71},{"t":"Rest","c":"Cz","v":0.898,"j":-142},{"t":"Rest","c":"Cz","v":0.893,"j":-149},{"t":"Rest","c":"Cz","v":0.895,"j":-42},{"t":"Rest","c":"Cz","v":0.895,"j":-17},{"t":"Rest","c":"Cz","v":0.892,"j":75},{"t":"Rest","c":"Cz","v":0.888,"j":63},{"t":"Rest","c":"Cz","v":0.885,"j":-129},{"t":"Rest","c":"Cz","v":0.886,"j":-39},{"t":"Rest","c":"Cz","v":0.881,"j":25},{"t":"Rest","c":"Cz","v":0.878,"j":-52},{"t":"Rest","c":"Cz","v":0.877,"j":98},{"t":"Rest","c":"Cz","v":0.875,"j":103},{"t":"Rest","c":"Cz","v":0.871,"j":-77},{"t":"Rest","c":"Cz","v":0.869,"j":-62},{"t":"Rest","c":"Cz","v":0.864,"j":-59},{"t":"Rest","c":"Cz","v":0.865,"j":-19},{"t":"Rest","c":"Cz","v":0.862,"j":13},{"t":"Rest","c":"Cz","v":0.861,"j":-12},{"t":"Rest","c":"Cz","v":0.864,"j":111},{"t":"Rest","c":"Cz","v":0.859,"j":98},{"t":"Rest","c":"Cz","v":0.855,"j":-37},{"t":"Rest","c":"Cz","v":0.852,"j":-22},{"t":"Rest","c":"Cz","v":0.850,"j":-9},{"t":"Rest","c":"Cz","v":0.852,"j":138},{"t":"Rest","c":"Cz","v":0.841,"j":71},{"t":"Rest","c":"Cz","v":0.841,"j":101},{"t":"Rest","c":"Cz","v":0.836,"j":75},{"t":"Rest","c":"Cz","v":0.833,"j":-105},{"t":"Rest","c":"Cz","v":0.836,"j":-69},{"t":"Rest","c":"Cz","v":0.832,"j":-39},{"t":"Rest","c":"Cz","v":0.835,"j":3},{"t":"Rest","c":"Cz","v":0.828,"j":131},{"t":"Rest","c":"Cz","v":0.824,"j":-42},{"t":"Rest","c":"Cz","v":0.824,"j":1},{"t":"Rest","c":"Cz","v":0.819,"j":65},{"t":"Rest","c":"Cz","v":0.821,"j":95},{"t":"Rest","c":"Cz","v":0.819,"j":1},{"t":"Rest","c":"Cz","v":0.808,"j":91},{"t":"Rest","c":"Cz","v":0.805,"j":138},{"t":"Rest","c":"Cz","v":0.793,"j":91},{"t":"Rest","c":"Cz","v":0.778,"j":-117},{"t":"Rest","c":"Cz","v":0.780,"j":-9},{"t":"Rest","c":"Cz","v":0.772,"j":13},{"t":"Rest","c":"Cz","v":0.769,"j":28},{"t":"Rest","c":"Cz","v":0.733,"j":1},{"t":"Rest","c":"Cz","v":0.726,"j":131},{"t":"Rest","c":"Cz","v":0.707,"j":45}
]},
"layer":[
{"data":{"name":"pts"},
 "transform":[
  {"calculate":"indexof(['左腳','右腳','Rest'], datum.t) + (datum.c === 'C3' ? -0.22 : (datum.c === 'Cz' ? 0.22 : 0))","as":"xc"},
  {"calculate":"datum.xc + datum.j/1918","as":"xp"}],
 "mark":{"type":"circle","size":125,"opacity":0.7,"stroke":"white","strokeWidth":0.8},
 "encoding":{
  "x":{"field":"xp","type":"quantitative","scale":{"domain":[-0.433,2.421],"nice":false,"zero":false},
       "axis":{"title":null,"values":[0,1,2],"labelExpr":"['左腳','右腳','Rest'][datum.value]","grid":false,"domain":false,"labelFont":"'Noto Sans', 'Noto Sans CJK TC'","labelFontSize":25,"labelColor":"#000","tickColor":"#000","tickSize":9,"tickWidth":2,"labelPadding":7}},
  "y":{"field":"v","type":"quantitative","scale":{"domain":[0.699,0.9943],"nice":false,"zero":false},
       "axis":{"title":"Normalized spectral entropy","values":[0.7,0.75,0.8,0.85,0.9,0.95],"format":".2f","grid":true,"gridColor":"#dbe4ed","gridWidth":1.5,"domain":false,"labelFontSize":25,"labelColor":"#000","tickColor":"#000","tickSize":9,"tickWidth":2,"labelPadding":6,"titleFontSize":25,"titleFontWeight":"normal","titleColor":"#000","titlePadding":15}},
  "color":{"field":"c","type":"nominal","scale":{"domain":["C3","C4","Cz"],"range":["#2a7f76","#cf4a6f","#3473db"]},
       "legend":{"title":"Channel","orient":"top-right","offset":22,"padding":0,"titleFontSize":25,"titleFontWeight":"normal","titleColor":"#000","labelFontSize":25,"labelColor":"#000","symbolType":"circle","symbolSize":130,"symbolOpacity":0.7,"symbolStrokeWidth":0,"rowPadding":13,"labelOffset":31,"titlePadding":12,"titleAnchor":"end","symbolOffset":19}}
 }},
{"data":{"name":"summary"},
 "transform":[
  {"calculate":"indexof(['左腳','右腳','Rest'], datum.t) + (datum.c === 'C3' ? -0.22 : (datum.c === 'Cz' ? 0.22 : 0))","as":"xc"},
  {"calculate":"datum.xc - 0.0195","as":"xl"},
  {"calculate":"datum.xc + 0.0195","as":"xr"}],
 "layer":[
  {"mark":{"type":"rule","strokeWidth":4},
   "encoding":{"x":{"field":"xc","type":"quantitative"},"y":{"field":"lo","type":"quantitative"},"y2":{"field":"hi"},"color":{"field":"c","type":"nominal","legend":null}}},
  {"mark":{"type":"rule","strokeWidth":2.5},
   "encoding":{"x":{"field":"xl","type":"quantitative"},"x2":{"field":"xr"},"y":{"field":"hi","type":"quantitative"},"color":{"field":"c","type":"nominal","legend":null}}},
  {"mark":{"type":"rule","strokeWidth":2.5},
   "encoding":{"x":{"field":"xl","type":"quantitative"},"x2":{"field":"xr"},"y":{"field":"lo","type":"quantitative"},"color":{"field":"c","type":"nominal","legend":null}}},
  {"mark":{"type":"circle","size":314,"opacity":1,"stroke":"#000","strokeWidth":2},
   "encoding":{"x":{"field":"xc","type":"quantitative"},"y":{"field":"m","type":"quantitative"},"fill":{"field":"c","type":"nominal","scale":{"domain":["C3","C4","Cz"],"range":["#2a7f76","#cf4a6f","#3473db"]},"legend":null}}}
 ]}
]
}
